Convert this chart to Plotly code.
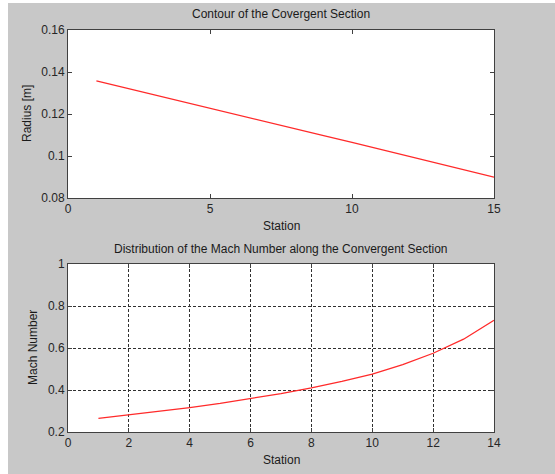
import plotly.graph_objects as go

station_r = list(range(1, 16))
radius = [0.1358, 0.1325, 0.1292, 0.1259, 0.1226, 0.1193, 0.1161, 0.1129,
          0.1097, 0.1065, 0.1032, 0.0999, 0.0966, 0.0933, 0.0899]

station_m = list(range(1, 15))
mach = [0.265, 0.281, 0.298, 0.316, 0.336, 0.359, 0.383, 0.410,
        0.441, 0.476, 0.521, 0.575, 0.642, 0.732]

W, H = 555, 474
FONT = "Liberation Sans, Arial, sans-serif"
FRAME = "#404040"
TXT = "#262626"

def px_x(p):
    return p / W

def px_y(p):
    return 1 - p / H

fig = go.Figure()
fig.add_trace(go.Scatter(x=station_r, y=radius, mode="lines",
                         line=dict(color="#ff2a2a", width=1.3),
                         xaxis="x", yaxis="y", showlegend=False))
fig.add_trace(go.Scatter(x=station_m, y=mach, mode="lines",
                         line=dict(color="#ff2a2a", width=1.3),
                         xaxis="x2", yaxis="y2", showlegend=False))

common = dict(showline=True, mirror="ticks", linecolor=FRAME, linewidth=1,
              ticks="inside", ticklen=4, tickcolor=FRAME, zeroline=False,
              automargin=False,
              tickfont=dict(family=FONT, size=12, color=TXT))

xd = [px_x(68), px_x(494)]
fig.update_layout(
    width=W, height=H,
    margin=dict(l=0, r=0, t=0, b=0, autoexpand=False),
    paper_bgcolor="#c8c8c8",
    plot_bgcolor="white",
    font=dict(family=FONT, size=12, color=TXT),
    xaxis=dict(domain=xd, range=[0, 15], tickvals=[0, 5, 10, 15],
               showgrid=False, anchor="y", **common),
    yaxis=dict(domain=[px_y(198), px_y(30)], range=[0.08, 0.16],
               tickvals=[0.08, 0.1, 0.12, 0.14, 0.16],
               ticktext=["0.08", "0.1", "0.12", "0.14", "0.16"],
               showgrid=False, anchor="x", **common),
    xaxis2=dict(domain=xd, range=[0, 14], tickvals=list(range(0, 15, 2)),
                showgrid=True, gridcolor="#303030", griddash="3px,2px", gridwidth=1,
                anchor="y2", **common),
    yaxis2=dict(domain=[px_y(432), px_y(264)], range=[0.2, 1],
                tickvals=[0.2, 0.4, 0.6, 0.8, 1],
                ticktext=["0.2", "0.4", "0.6", "0.8", "1"],
                showgrid=True, gridcolor="#303030", griddash="3px,2px", gridwidth=1,
                anchor="x2", **common),
)

cx = px_x((68 + 494) / 2)
ann = [
    dict(text="Contour of the Covergent Section", x=cx, y=px_y(14)),
    dict(text="Station", x=cx, y=px_y(226)),
    dict(text="Distribution of the Mach Number along the Convergent Section", x=cx, y=px_y(249)),
    dict(text="Station", x=cx, y=px_y(460)),
    dict(text="Radius [m]", x=px_x(27), y=px_y(114), textangle=-90),
    dict(text="Mach Number", x=px_x(33), y=px_y(348), textangle=-90),
]
for a in ann:
    fig.add_annotation(xref="paper", yref="paper", showarrow=False,
                       xanchor="center", yanchor="middle",
                       font=dict(family=FONT, size=12, color="#1a1a1a"), **a)

# white strips at the left and top edges of the captured window
fig.add_shape(type="rect", xref="paper", yref="paper", x0=0, x1=px_x(8), y0=0, y1=1,
              fillcolor="white", line=dict(width=0), layer="below")
fig.add_shape(type="rect", xref="paper", yref="paper", x0=0, x1=1, y0=px_y(3), y1=1,
              fillcolor="white", line=dict(width=0), layer="below")

fig.write_html(
    "out.html",
    config={"displayModeBar": False},
    post_script=("document.documentElement.style.overflow='hidden';"
                 "document.body.style.margin='0';"
                 "document.body.style.overflow='hidden';"),
)
